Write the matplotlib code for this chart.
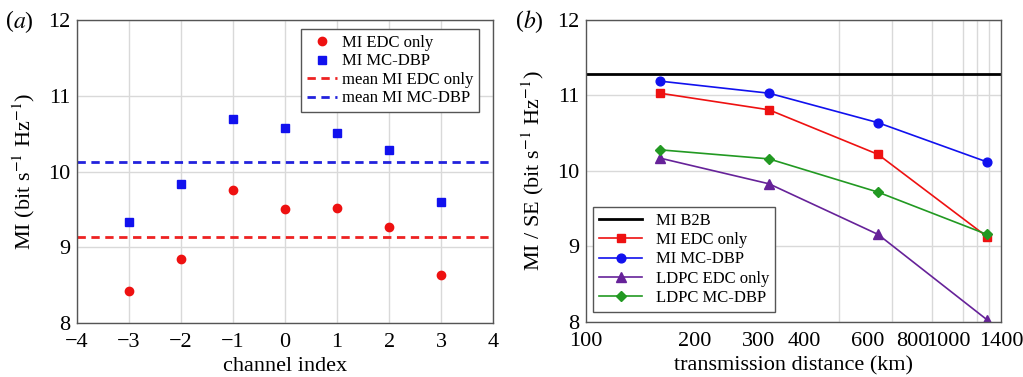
import matplotlib
matplotlib.use("Agg")
import matplotlib.pyplot as plt
from matplotlib.ticker import FixedLocator, NullFormatter, FixedFormatter
import numpy as np

plt.rcParams['font.family'] = ['Liberation Serif', 'DejaVu Serif']
plt.rcParams['mathtext.fontset'] = 'stix'

# Panel (a)
channel = [-3, -2, -1, 0, 1, 2, 3]
mi_edc = [8.42, 8.85, 9.76, 9.51, 9.52, 9.27, 8.64]
mi_mcdbp = [9.33, 9.83, 10.69, 10.58, 10.51, 10.29, 9.60]
mean_edc = 9.14
mean_mcdbp = 10.12

# Panel (b)
distance = [160, 320, 640, 1280]
mi_b2b = 11.29
b_mi_edc = [11.03, 10.81, 10.22, 9.13]
b_mi_mcdbp = [11.19, 11.03, 10.64, 10.12]
ldpc_edc = [10.17, 9.83, 9.16, 8.03]
ldpc_mcdbp = [10.28, 10.16, 9.72, 9.16]
xticks_b = [100, 200, 300, 400, 600, 800, 1000, 1400]

fig = plt.figure(figsize=(10.23, 3.77), dpi=100)
ax1 = fig.add_axes([0.0753, 0.143, 0.4067, 0.804])
ax2 = fig.add_axes([0.573, 0.146, 0.4055, 0.801])

grid_kw = dict(color='#d9d9d9', lw=1.0)
tick_fs = 16
lab_fs = 16
leg_fs = 12

for ax in (ax1, ax2):
    for s in ax.spines.values():
        s.set_color('#555555')
        s.set_linewidth(1.0)
    ax.tick_params(length=0, labelsize=tick_fs)
    ax.tick_params(axis='x', pad=7)
    ax.tick_params(axis='y', pad=5)
    ax.set_axisbelow(True)

# (a)
ax1.grid(True, **grid_kw)
ax1.plot(channel, mi_edc, 'o', color='#ee1111', ms=6, label='MI EDC only', zorder=3)
ax1.plot(channel, mi_mcdbp, 's', color='#1111ee', ms=6, label='MI MC-DBP', zorder=3)
ax1.axhline(mean_edc, color='#ee2222', ls=(0, (3, 2)), lw=2, label='mean MI EDC only')
ax1.axhline(mean_mcdbp, color='#2222dd', ls=(0, (3, 2)), lw=2, label='mean MI MC-DBP')
ax1.set_xlim(-4, 4)
ax1.set_ylim(8, 12)
ax1.set_xticks(range(-4, 5))
ax1.set_xticklabels(['\u22124', '\u22123', '\u22122', '\u22121', '0', '1', '2', '3', '4'])
ax1.set_yticks([8, 9, 10, 11, 12])
ax1.set_xlabel('channel index', fontsize=lab_fs, labelpad=4)
ax1.set_ylabel('MI (bit s$^{-1}$ Hz$^{-1}$)', fontsize=lab_fs, labelpad=8)
leg1 = ax1.legend(loc='upper right', bbox_to_anchor=(0.966, 0.97), borderaxespad=0,
                  fontsize=leg_fs, fancybox=False, edgecolor='#555555', framealpha=1,
                  handlelength=1.8, handletextpad=0.3, borderpad=0.35, labelspacing=0.15)
leg1.get_frame().set_linewidth(1.0)
fig.text(0.006, 0.942, '(', fontsize=17, ha='left', va='center')
fig.text(0.013, 0.942, '$\\mathit{a}$)', fontsize=17, ha='left', va='center')

# (b)
ax2.set_xscale('log')
ax2.set_xlim(100, 1400)
ax2.set_ylim(8, 12)
ax2.axhline(mi_b2b, color='black', lw=2, label='MI B2B')
ax2.plot(distance, b_mi_edc, '-s', color='#ee1111', ms=6.3, lw=1.2, label='MI EDC only')
ax2.plot(distance, b_mi_mcdbp, '-o', color='#1111ee', ms=6.3, lw=1.2, label='MI MC-DBP')
ax2.plot(distance, ldpc_edc, '-^', color='#662299', ms=6.5, lw=1.2, label='LDPC EDC only')
ax2.plot(distance, ldpc_mcdbp, '-D', color='#229922', ms=5.5, lw=1.2, label='LDPC MC-DBP')
ax2.xaxis.set_major_locator(FixedLocator(xticks_b))
ax2.xaxis.set_major_formatter(FixedFormatter([str(v) for v in xticks_b]))
ax2.xaxis.set_minor_locator(FixedLocator(list(range(100, 1401, 100))))
ax2.xaxis.set_minor_formatter(NullFormatter())
ax2.tick_params(which='minor', length=0)
ax2.set_yticks([8, 9, 10, 11, 12])
ax2.grid(True, which='minor', axis='x', **grid_kw)
ax2.grid(True, which='major', axis='y', **grid_kw)
ax2.set_xlabel('transmission distance (km)', fontsize=lab_fs, labelpad=4)
ax2.set_ylabel('MI / SE (bit s$^{-1}$ Hz$^{-1}$)', fontsize=lab_fs, labelpad=8)
leg2 = ax2.legend(loc='lower left', bbox_to_anchor=(0.017, 0.033), borderaxespad=0,
                  fontsize=leg_fs, fancybox=False, edgecolor='#555555', framealpha=1,
                  handlelength=2.6, handletextpad=0.8, borderpad=0.35, labelspacing=0.2)
leg2.get_frame().set_linewidth(1.0)
fig.text(0.504, 0.942, '(', fontsize=17, ha='left', va='center')
fig.text(0.511, 0.942, '$\\mathit{b}$)', fontsize=17, ha='left', va='center')

fig.savefig('out.png', dpi=100)
